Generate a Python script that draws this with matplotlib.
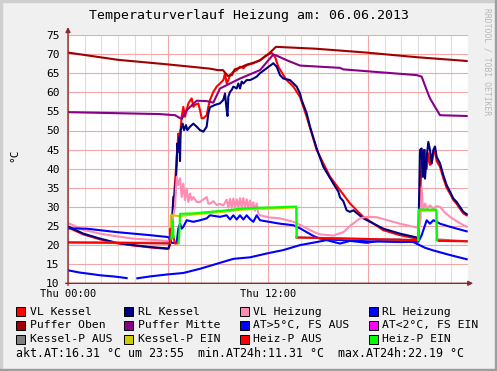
import numpy as np
import matplotlib
matplotlib.use('Agg')
import matplotlib.pyplot as plt
from matplotlib.patches import Rectangle

plt.rcParams['font.family'] = ['DejaVu Sans Mono']

nan = np.nan

# --- data (hours since Thu 00:00, temperature in °C) ---
vl_kessel_t = [0, 0.92, 1.92, 2.92, 3.92, 4.92, 6.02, 6.12, 6.24, 6.36, 6.45, 6.52, 6.57, 6.62, 6.69,
               6.82, 6.92, 7.02, 7.22, 7.42, 7.52, 7.62, 7.82, 7.92, 8.02, 8.12, 8.32, 8.42, 8.52, 8.72,
               8.92, 9.12, 9.32, 9.42, 9.52, 9.62, 9.72, 9.92, 10.12, 10.32, 10.52, 10.72, 11.12, 11.52,
               11.92, 12.22, 12.42, 12.62, 12.92, 13.12, 13.52, 13.92, 14.32, 14.92, 15.72, 16.32, 16.92,
               17.32, 17.72, 18.92, 19.92, 20.92, 21.02, 21.12, 21.22, 21.32, 21.42, 21.52, 21.62, 21.72,
               21.82, 21.92, 22.02, 22.12, 22.32, 22.52, 22.72, 22.92, 23.12, 23.32, 23.52, 23.72, 23.92]
vl_kessel = [24.6, 22.8, 21.5, 20.5, 19.9, 19.4, 19.0, 20.0, 25.0, 33.0, 38.0, 43.0, 46.0, 49.2, 46.5,
             53.6, 56.2, 53.6, 57.1, 58.4, 56.2, 56.7, 57.1, 55.3, 53.2, 53.2, 54.0, 56.2, 58.0, 60.1,
             61.5, 62.3, 63.2, 65.0, 62.3, 63.2, 64.5, 65.4, 65.8, 66.7, 66.3, 67.1, 67.6, 68.4,
             69.8, 70.3, 69.3, 66.7, 64.5, 63.2, 61.5, 58.8, 53.6, 44.9, 37.9, 34.4, 30.9,
             29.1, 27.4, 23.9, 22.6, 21.7, 21.6, 30.0, 44.0, 37.9, 44.9, 40.0, 44.0, 41.0,
             41.4, 44.0, 44.5, 42.0, 40.5, 37.5, 35.0, 33.5, 31.8, 30.8, 29.5, 28.3, 27.8]

rl_kessel_t = [0, 0.92, 1.92, 2.92, 3.92, 4.92, 6.02, 6.12, 6.18, 6.26, 6.32, 6.42, 6.52, 6.56, 6.62,
               6.68, 6.72, 6.76, 6.88, 6.96, 7.08, 7.16, 7.32, 7.52, 7.72, 7.92, 8.12, 8.32, 8.42, 8.52,
               8.82, 9.12, 9.32, 9.42, 9.52, 9.57, 9.62, 9.72, 9.82, 9.92, 10.12, 10.22, 10.32, 10.42,
               10.52, 10.72, 10.92, 11.12, 11.32, 11.52, 11.92, 12.32, 12.52, 12.72, 12.92, 13.32, 13.72,
               13.92, 14.02, 14.32, 14.52, 14.92, 15.32, 15.92, 16.22, 16.32, 16.52, 16.72, 16.92, 17.12,
               17.72, 18.92, 19.92, 20.92, 21.02, 21.12, 21.22, 21.28, 21.36, 21.42, 21.52, 21.62, 21.72,
               21.82, 21.92, 22.02, 22.12, 22.32, 22.52, 22.72, 22.92, 23.12, 23.32, 23.52, 23.72, 23.92]
rl_kessel = [24.9, 23.0, 21.7, 20.6, 20.0, 19.5, 19.1, 20.4, 23.0, 27.8, 32.6, 33.0, 41.0, 46.6, 44.5,
             48.3, 42.0, 50.1, 51.8, 50.1, 51.4, 50.1, 51.0, 51.8, 51.0, 50.1, 49.7, 51.0, 54.5, 56.1,
             56.7, 57.1, 58.0, 59.7, 55.3, 53.8, 58.8, 60.1, 60.6, 61.5, 61.0, 62.3, 61.0, 62.8,
             62.3, 63.2, 63.2, 63.6, 64.1, 65.0, 66.3, 67.6, 66.7, 64.5, 63.6, 63.2, 61.5,
             59.7, 58.0, 54.5, 51.0, 45.3, 40.5, 36.1, 34.0, 32.5, 31.5, 29.1, 28.7, 29.1,
             27.0, 24.3, 23.0, 22.0, 21.7, 44.9, 45.3, 37.9, 44.9, 37.4, 43.1, 47.0, 44.9,
             41.4, 44.9, 45.8, 43.1, 41.4, 38.3, 35.7, 34.0, 32.2, 31.3, 30.0, 28.7, 28.1]

vl_heiz_t = [0, 0.92, 1.92, 2.92, 3.92, 4.92, 5.92, 6.02, 6.12, 6.24, 6.42, 6.52, 6.62, 6.72, 6.82,
             6.92, 7.02, 7.12, 7.22, 7.32, 7.42, 7.52, 7.72, 7.92, 8.32, 8.42, 8.52, 8.72, 8.92, 9.12,
             9.32, 9.52, 9.62, 9.72, 9.82, 9.92, 10.02, 10.12, 10.22, 10.32, 10.42, 10.52, 10.62, 10.72,
             10.82, 10.92, 11.02, 11.12, 11.22, 11.32, 11.42, 11.52, 12.12, 12.72, 13.52, 13.92, 14.72,
             15.12, 15.92, 16.52, 16.92, 17.52, 17.92, 18.52, 19.92, 20.92, 21.06, 21.15, 21.22, 21.3,
             21.42, 21.54, 21.72, 21.9, 22.14, 22.32, 22.62, 22.92, 23.4, 23.92]
vl_heiz = [25.8, 24.0, 23.0, 22.3, 21.7, 21.4, 21.1, 21.0, 22.0, 26.0, 30.0, 37.9, 35.7, 37.5, 32.6,
           36.1, 31.8, 34.8, 31.3, 33.5, 31.8, 32.6, 31.3, 31.3, 32.6, 30.9, 30.8, 31.5, 30.5, 30.8,
           30.4, 31.9, 29.8, 32.1, 29.8, 32.2, 29.8, 32.0, 29.8, 32.3, 29.8, 32.3, 29.8, 32.0,
           29.8, 31.7, 29.5, 31.2, 29.0, 30.9, 28.2, 27.8, 27.2, 27.0, 26.1, 25.3, 23.5,
           22.8, 22.5, 23.4, 25.0, 27.0, 27.4, 27.3, 25.6, 24.6, 24.8, 27.0, 35.2, 29.0,
           30.9, 29.5, 30.4, 29.6, 30.2, 30.0, 28.5, 27.4, 26.0, 24.8]

rl_heiz_t = [0, 1.12, 2.92, 4.92, 6.02, 6.12, 6.22, 6.52, 6.62, 6.72, 6.82, 6.92, 7.12, 7.52, 7.92,
             8.32, 8.52, 9.12, 9.52, 9.72, 9.92, 10.12, 10.32, 10.52, 10.72, 10.92, 11.12, 11.32, 11.52,
             12.72, 13.52, 13.92, 14.72, 15.12, 15.92, 17.92, 19.92, 21.02, 21.12, 21.22, 21.32, 21.52,
             21.72, 21.92, 22.12, 22.32, 22.92, 23.92]
rl_heiz = [24.4, 24.3, 23.4, 22.6, 22.1, 21.4, 20.6, 20.6, 24.3, 25.6, 24.3, 24.8, 26.5, 26.1, 26.5,
           27.0, 27.8, 27.4, 27.8, 26.7, 27.8, 26.7, 27.8, 26.7, 27.8, 26.8, 26.1, 27.8, 26.5,
           25.6, 25.2, 24.4, 22.4, 21.7, 21.4, 21.0, 20.8, 20.9, 21.7, 22.6, 23.9, 26.5,
           25.6, 26.5, 26.1, 25.6, 24.8, 23.6]

puffer_oben_t = [0, 3.0, 6.0, 8.5, 9.0, 9.3, 9.58, 9.84, 10.0, 10.3, 10.7, 11.1, 11.5, 12.0, 12.24,
                 12.48, 14.9, 17.9, 20.9, 23.92]
puffer_oben = [70.4, 68.5, 67.3, 66.2, 65.8, 65.8, 64.3, 64.5, 66.0, 66.4, 67.2, 67.7, 68.3, 69.9, 70.9,
               71.9, 71.4, 70.4, 69.2, 68.2]

puffer_mitte_t = [0, 5.5, 6.42, 6.82, 7.12, 7.72, 8.32, 8.72, 9.12, 9.72, 10.32, 11.52, 12.32, 12.52,
                  13.12, 13.92, 16.32, 16.52, 20.92, 21.22, 21.52, 21.72, 22.32, 23.92]
puffer_mitte = [54.8, 54.3, 54.0, 53.0, 55.3, 57.8, 57.7, 57.3, 61.0, 62.3, 63.6, 65.8, 69.9, 69.6,
                68.4, 67.0, 66.4, 66.0, 64.5, 64.1, 60.6, 58.4, 54.0, 53.8]

at_t = [0, 0.72, 1.52, 1.92, 2.72, 3.12, 3.52, 3.8, 4.16, 4.92, 5.92, 6.92, 7.92, 8.92, 9.92, 10.92,
        11.92, 12.92, 13.92, 14.92, 15.52, 16.32, 16.92, 17.92, 18.92, 19.92, 20.72, 21.42, 21.92,
        22.92, 23.92]
at = [13.4, 12.8, 12.35, 12.1, 11.8, 11.6, 11.35, nan, 11.31, 11.8, 12.3, 12.7, 13.8, 15.1, 16.4, 16.8,
      17.8, 18.7, 20.0, 20.8, 21.3, 20.4, 21.1, 20.6, 21.3, 21.4, 20.8, 19.3, 18.6,
      17.4, 16.3]

kessel_p_aus_t = [0, 6.12, nan, 13.72, 21.02, nan, 22.12, 23.92]
kessel_p_aus = [20.7, 20.6, nan, 22.0, 21.3, nan, 21.5, 21.0]
kessel_p_ein_t = [6.12, 6.17, 6.72, 7.5, 8.5, 9.5, 10.5, 11.5, 12.5, 13.7, 13.72, nan,
                  21.02, 21.07, 22.1, 22.12]
kessel_p_ein = [20.6, 27.8, 27.6, 28.0, 28.4, 28.8, 29.3, 29.5, 29.6, 29.9, 22.0, nan,
                21.3, 29.0, 29.0, 21.5]

heiz_p_aus_t = [0, 3.0, 6.0, 6.1, 6.15, 6.2, nan, 6.34, 6.42, 6.62, nan, 13.72, 21.0, nan,
                22.14, 22.25, 23.92]
heiz_p_aus = [20.7, 20.6, 20.4, 20.5, 24.3, 21.7, nan, 22.0, 20.4, 20.5, nan, 22.0, 21.3, nan,
              21.3, 21.1, 21.0]
heiz_p_ein_t = [6.2, 6.28, 6.34, nan, 6.62, 6.68, 6.72, 7.5, 8.5, 9.5, 10.5, 11.5, 12.5, 13.7, 13.72,
                nan, 21.0, 21.06, 22.1, 22.14]
heiz_p_ein = [21.7, 26.5, 22.0, nan, 20.5, 22.6, 28.2, 28.3, 28.7, 29.1, 29.6, 29.8, 29.9, 30.1, 22.1,
              nan, 21.3, 29.3, 29.3, 21.3]

legend_rows = [
    [('VL Kessel', '#ff0000'), ('RL Kessel', '#000080'), ('VL Heizung', '#ff8cb4'), ('RL Heizung', '#0000ff')],
    [('Puffer Oben', '#a00000'), ('Puffer Mitte', '#880088'), ('AT>5°C, FS AUS', '#0000ff'), ('AT<2°C, FS EIN', '#ff00ff')],
    [('Kessel-P AUS', '#808080'), ('Kessel-P EIN', '#cccc00'), ('Heiz-P AUS', '#ff0000'), ('Heiz-P EIN', '#00ff00')],
]
info_line = 'akt.AT:16.31 °C um 23:55  min.AT24h:11.31 °C  max.AT24h:22.19 °C'

W, H = 497, 371
axis_col = '#8c2a2a'

fig = plt.figure(figsize=(W / 100, H / 100), dpi=100, facecolor='#f0f0f0')
ax = fig.add_axes([68 / W, 1 - 283.3 / H, 400 / W, 248.3 / H])
ax.set_facecolor('white')

lw = 1.5
ax.plot(vl_kessel_t, vl_kessel, color='#ff0000', lw=lw)
ax.plot(rl_kessel_t, rl_kessel, color='#000080', lw=lw)
ax.plot(vl_heiz_t, vl_heiz, color='#ff8cb4', lw=lw)
ax.plot(rl_heiz_t, rl_heiz, color='#0000ff', lw=lw)
ax.plot(puffer_oben_t, puffer_oben, color='#a00000', lw=lw)
ax.plot(puffer_mitte_t, puffer_mitte, color='#880088', lw=lw)
ax.plot(at_t, at, color='#0000ff', lw=lw)
ax.plot(kessel_p_aus_t, kessel_p_aus, color='#808080', lw=lw)
ax.plot(kessel_p_ein_t, kessel_p_ein, color='#cccc00', lw=lw)
ax.plot(heiz_p_aus_t, heiz_p_aus, color='#ff0000', lw=lw)
ax.plot(heiz_p_ein_t, heiz_p_ein, color='#00ff00', lw=lw)

ax.set_xlim(0, 24)
ax.set_ylim(10, 75)
ax.set_xticks([0, 6, 12, 18, 24])
ax.set_xticklabels(['Thu 00:00', '', 'Thu 12:00', '', ''])
ax.set_xticks(range(1, 24), minor=True)
ax.set_yticks(range(10, 80, 5))
ax.grid(True, which='minor', axis='x', color='#dedede', lw=0.8)
ax.grid(True, which='major', color='#f4a6a6', lw=0.8)
ax.set_axisbelow(True)
ax.tick_params(which='both', length=0)
ax.tick_params(axis='y', labelsize=8, pad=6)
ax.tick_params(axis='x', labelsize=7.5, pad=4)
for s in ax.spines.values():
    s.set_visible(False)

# axes with arrows
ax.annotate('', xy=(1.013, 0), xytext=(-0.006, 0), xycoords='axes fraction',
            arrowprops=dict(arrowstyle='-|>', color=axis_col, lw=1, mutation_scale=7, shrinkA=0, shrinkB=0))
ax.annotate('', xy=(0, 1.032), xytext=(0, -0.008), xycoords='axes fraction',
            arrowprops=dict(arrowstyle='-|>', color=axis_col, lw=1, mutation_scale=7, shrinkA=0, shrinkB=0))

# texts
fig.text(249 / W, 1 - 16 / H, 'Temperaturverlauf Heizung am: 06.06.2013', ha='center', va='center', fontsize=9.5)
fig.text(14 / W, 1 - 155 / H, '°C', rotation=90, ha='center', va='center', fontsize=8)
fig.text(487 / W, 1 - 62 / H, 'RRDTOOL / TOBI OETIKER', rotation=270, ha='center', va='center',
         fontsize=5.8, color='#b8b8b8')

box_x = [16, 124, 240, 368.5]
text_x = [30, 138.3, 253.3, 382.3]
row_y = [311.7, 325, 339.2]
for r, row in enumerate(legend_rows):
    for c, (label, col) in enumerate(row):
        fig.patches.append(Rectangle((box_x[c] / W, 1 - (row_y[r] + 4.5) / H), 9 / W, 9 / H,
                                     transform=fig.transFigure, facecolor=col, edgecolor='black', lw=0.7))
        fig.text(text_x[c] / W, 1 - row_y[r] / H, label, ha='left', va='center', fontsize=8.2)
fig.text(16.5 / W, 1 - 353.3 / H, info_line, ha='left', va='center', fontsize=8.4)

# 3d frame
fig.patches.append(Rectangle((0, 0), 2 / W, 1, transform=fig.transFigure, color='#cfcfcf'))
fig.patches.append(Rectangle((0, 1 - 2 / H), 1, 2 / H, transform=fig.transFigure, color='#cfcfcf'))
fig.patches.append(Rectangle((1 - 2 / W, 0), 2 / W, 1, transform=fig.transFigure, color='#9e9e9e'))
fig.patches.append(Rectangle((0, 0), 1, 2 / H, transform=fig.transFigure, color='#9e9e9e'))

fig.savefig('out.png', dpi=100, facecolor=fig.get_facecolor())
